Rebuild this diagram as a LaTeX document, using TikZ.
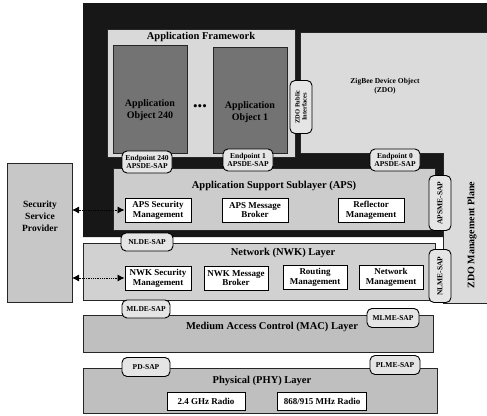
\documentclass[tikz,border=0pt]{standalone}
\usepackage{fontspec}
\setmainfont{Liberation Serif}
\usetikzlibrary{arrows.meta}
\definecolor{frameblack}{gray}{0.09}
\definecolor{afgray}{gray}{0.85}
\definecolor{aogray}{gray}{0.45}
\definecolor{zdogray}{gray}{0.86}
\definecolor{apsgray}{gray}{0.80}
\definecolor{nwkgray}{gray}{0.82}
\definecolor{macgray}{gray}{0.75}
\definecolor{secgray}{gray}{0.78}
\definecolor{pillgray}{gray}{0.90}
\begin{document}
\begin{tikzpicture}[x=1pt,y=-1pt,
  lay/.style={draw=black!85, line width=0.6pt, anchor=north west, inner sep=0pt, outer sep=0pt},
  modbox/.style={draw=black, fill=white, line width=0.9pt, align=center, inner sep=0pt,
    minimum width=66pt, minimum height=24pt, font=\fontsize{9}{9.8}\selectfont\bfseries},
  pill/.style={draw=black, fill=pillgray, line width=0.9pt, rounded corners=5pt, align=center,
    inner sep=0pt, font=\fontsize{7.5}{8}\selectfont\bfseries},
  ttl/.style={font=\fontsize{10.5}{12}\selectfont\bfseries, inner sep=0pt, align=center},
  secarrow/.style={{Latex[length=7pt,width=7pt]}-{Latex[length=7pt,width=7pt]}, densely dotted, line width=0.8pt}
]
\useasboundingbox[fill=white] (0,0) rectangle (487,415);

% black frame
\fill[frameblack] (83,3) -- (487,3) -- (487,32) -- (443,32) -- (443,237) -- (83,237) -- cycle;

% ZDO and management plane
\filldraw[fill=zdogray, draw=black!85, line width=0.6pt]
  (300,32) -- (487,32) -- (487,303) -- (443,303) -- (443,153) -- (300,153) -- cycle;
\node[font=\fontsize{7.5}{9}\selectfont\bfseries, align=center, inner sep=0pt] (zdo) at (385,86) {ZigBee Device Object\\(ZDO)};
\node[ttl, rotate=90, font=\fontsize{10}{12}\selectfont\bfseries] (plane) at (472,235) {ZDO Management Plane};

% Application framework
\node[lay, fill=afgray, minimum width=188pt, minimum height=128pt] (af) at (107,29) {};
\node[ttl] (aftitle) at (201,37) {Application Framework};
\node[lay, fill=aogray, minimum width=74pt, minimum height=108pt] (ao240) at (113,45) {};
\node[lay, fill=aogray, minimum width=74pt, minimum height=106pt] (ao1) at (213,47) {};
\node[ttl, font=\fontsize{10}{12}\selectfont\bfseries, text=black] (ao240t) at (150,110) {Application\\Object 240};
\node[ttl, font=\fontsize{10}{12}\selectfont\bfseries, text=black] (ao1t) at (250,112) {Application\\Object 1};
\node[inner sep=0pt, font=\fontsize{13}{13}\selectfont] (dots) at (200,108) {\textbullet\textbullet\textbullet};
\node[pill, rotate=90, minimum width=53pt, minimum height=22pt, font=\fontsize{6.5}{7}\selectfont\bfseries] (zdopi) at (301,107) {ZDO Public\\Interfaces};

% APS
\node[lay, fill=apsgray, minimum width=322pt, minimum height=62pt] (aps) at (113,168) {};
\node[ttl] (apstitle) at (274,186) {Application Support Sublayer (APS)};
\node[modbox] (apssec) at (158,210) {APS Security\\Management};
\node[modbox] (apsmsg) at (255,210) {APS Message\\Broker};
\node[modbox] (refl) at (371,210) {Reflector\\Management};

% endpoint SAPs
\node[pill, minimum width=50pt, minimum height=22pt] (ep240) at (147,162) {Endpoint 240\\APSDE-SAP};
\node[pill, minimum width=50pt, minimum height=22pt] (ep1) at (248,160) {Endpoint 1\\APSDE-SAP};
\node[pill, minimum width=50pt, minimum height=22pt] (ep0) at (395,160) {Endpoint 0\\APSDE-SAP};
\node[pill, rotate=90, minimum width=55pt, minimum height=22pt] (apsme) at (440,203) {APSME-SAP};

% NWK
\node[lay, fill=nwkgray, minimum width=352pt, minimum height=57pt] (nwk) at (83,243) {};
\node[ttl] (nwktitle) at (283,253) {Network (NWK) Layer};
\node[modbox] (nwksec) at (158,278) {NWK Security\\Management};
\node[modbox, minimum width=64pt] (nwkmsg) at (236,278) {NWK Message\\Broker};
\node[modbox, minimum width=64pt] (rout) at (315,277) {Routing\\Management};
\node[modbox, minimum width=64pt] (netm) at (391,277) {Network\\Management};
\node[pill, minimum width=52pt, minimum height=18pt] (nlde) at (147,242) {NLDE-SAP};
\node[pill, rotate=90, minimum width=53pt, minimum height=22pt] (nlme) at (440,276) {NLME-SAP};

% MAC
\node[lay, fill=macgray, minimum width=350pt, minimum height=37pt] (mac) at (83,315) {};
\node[ttl] (mactitle) at (272,327) {Medium Access Control (MAC) Layer};
\node[pill, minimum width=48pt, minimum height=18pt] (mlde) at (146,309) {MLDE-SAP};
\node[pill, minimum width=52pt, minimum height=19pt] (mlme) at (393,318) {MLME-SAP};

% PHY
\node[lay, fill=macgray, minimum width=354pt, minimum height=45pt] (phy) at (83,368) {};
\node[ttl] (phytitle) at (262,381) {Physical (PHY) Layer};
\node[modbox, minimum width=78pt, minimum height=18pt] (r24) at (206,401) {2.4 GHz Radio};
\node[modbox, minimum width=89pt, minimum height=18pt] (r868) at (322,401) {868/915 MHz Radio};
\node[pill, minimum width=48pt, minimum height=19pt] (pd) at (146,367) {PD-SAP};
\node[pill, minimum width=50pt, minimum height=19pt] (plme) at (395,365) {PLME-SAP};

% Security service provider
\node[lay, fill=secgray, minimum width=65pt, minimum height=139pt] (ssp) at (7,163) {};
\node[ttl, font=\fontsize{9.5}{12}\selectfont\bfseries] (ssptext) at (40,216) {Security\\Service\\Provider};

% arrows
\draw[secarrow] (ssp.east |- apssec.west) -- (apssec.west);
\draw[secarrow] (ssp.east |- nwksec.west) -- (nwksec.west);
\end{tikzpicture}
\end{document}
